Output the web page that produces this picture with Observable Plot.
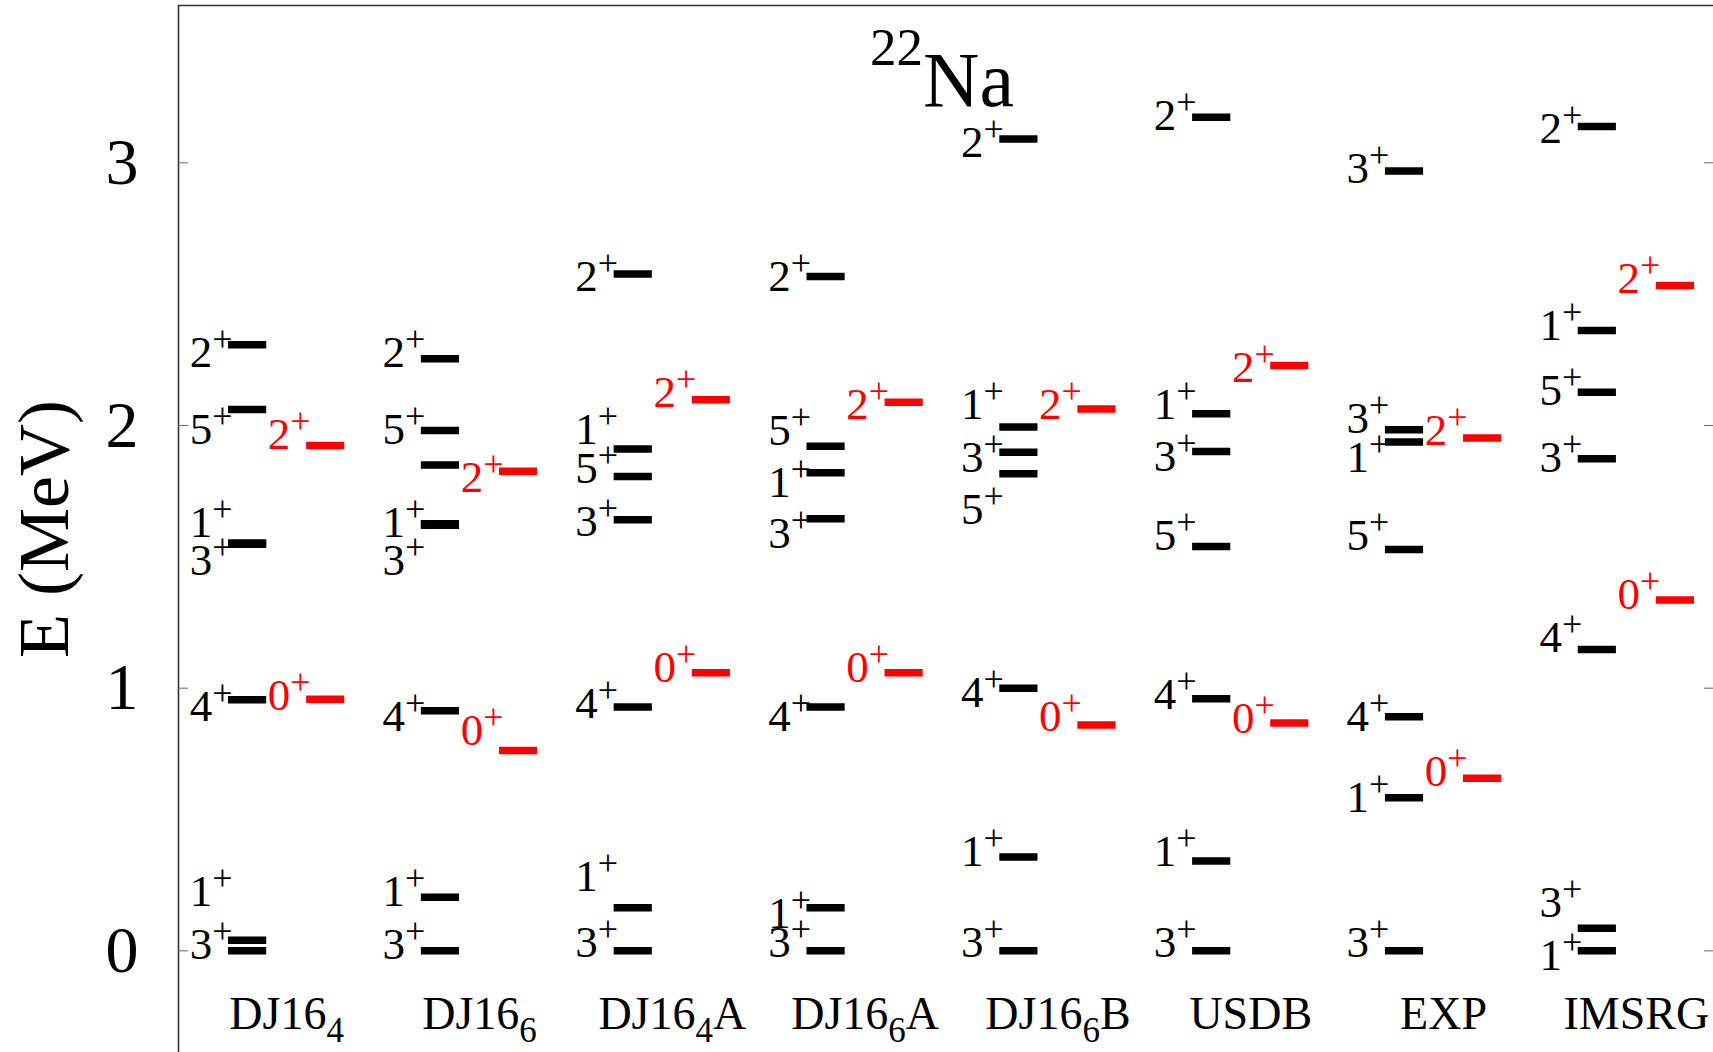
<!DOCTYPE html>
<html>
<head>
<meta charset="utf-8">
<script src="https://cdn.jsdelivr.net/npm/d3@7"></script>
<script src="https://cdn.jsdelivr.net/npm/@observablehq/plot@0.6"></script>
<style>
  html, body { margin: 0; padding: 0; background: #fff; }
  #chart { width: 1713px; height: 1052px; overflow: hidden; }
</style>
</head>
<body>
<div id="chart"></div>
<script>
// 22Na positive-parity spectra: shell-model interactions vs experiment and IMSRG.
// "_{}" marks a subscript and "^{}" a superscript in the drawn strings.
const models = ["DJ16_{4}", "DJ16_{6}", "DJ16_{4}A", "DJ16_{6}A", "DJ16_{6}B", "USDB", "EXP", "IMSRG"];
const energyTicks = [0, 1, 2, 3];

// Main levels (black), one list per model: spin J, excitation energy (MeV),
// and the energy at which the J^pi label sits (labels are nudged apart).
const mainJ = [
  [3, 1, 4, 3, 1, 5, 2],
  [3, 1, 4, 3, 1, null, 5, 2],
  [3, 1, 4, 3, 5, 1, 2],
  [3, 1, 4, 3, 1, 5, 2],
  [3, 1, 4, 5, 3, 1, 2],
  [3, 1, 4, 5, 3, 1, 2],
  [3, 1, 4, 5, 1, 3, 3],
  [1, 3, 4, 3, 5, 1, 2]
];
const mainE = [
  [0.000, 0.040, 0.956, 1.548, 1.553, 2.061, 2.307],
  [0.000, 0.204, 0.914, 1.620, 1.626, 1.850, 1.981, 2.254],
  [0.000, 0.164, 0.928, 1.641, 1.806, 1.911, 2.577],
  [0.000, 0.164, 0.928, 1.645, 1.820, 1.921, 2.567],
  [0.000, 0.357, 1.000, 1.816, 1.898, 1.994, 3.091],
  [0.000, 0.342, 0.960, 1.539, 1.901, 2.045, 3.174],
  [0.000, 0.583, 0.891, 1.528, 1.937, 1.984, 2.969],
  [0.000, 0.086, 1.147, 1.873, 2.127, 2.362, 3.138]
];
const mainLabelE = [
  [0.024, 0.226, 0.930, 1.486, 1.629, 1.983, 2.278],
  [0.024, 0.226, 0.892, 1.486, 1.629, null, 1.983, 2.278],
  [0.032, 0.283, 0.942, 1.635, 1.836, 1.985, 2.568],
  [0.032, 0.142, 0.890, 1.589, 1.784, 1.981, 2.568],
  [0.032, 0.379, 0.985, 1.680, 1.879, 2.080, 3.078],
  [0.033, 0.379, 0.976, 1.581, 1.883, 2.080, 3.180],
  [0.033, 0.585, 0.890, 1.581, 1.879, 2.027, 2.978],
  [-0.018, 0.184, 1.191, 1.879, 2.133, 2.381, 3.131]
];

// T = 1 analog states (red): the 0+ and 2+ levels of each model.
const analogJ = [0, 2];
const analogE = [
  [0.958, 1.924],
  [0.763, 1.826],
  [1.059, 2.098],
  [1.059, 2.089],
  [0.860, 2.063],
  [0.867, 2.228],
  [0.657, 1.952],
  [1.336, 2.533]
];
const analogLabelE = [
  [0.970, 1.966],
  [0.837, 1.800],
  [1.080, 2.127],
  [1.080, 2.080],
  [0.890, 2.080],
  [0.885, 2.222],
  [0.684, 1.981],
  [1.357, 2.560]
];

// Flatten into one table for the marks.
const levels = [];
models.forEach((m, i) => {
  mainJ[i].forEach((J, k) => levels.push({model: i, side: -1, J, E: mainE[i][k], labelE: mainLabelE[i][k]}));
  analogJ.forEach((J, k) => levels.push({model: i, side: 1, J, E: analogE[i][k], labelE: analogLabelE[i][k]}));
});

// Bar layout in column units: black bars left of the column centre, red bars right.
const barOffset = 0.2025;
const barHalf = 0.099;
const barLeft = d => d.model + d.side * barOffset - barHalf;
const barRight = d => d.model + d.side * barOffset + barHalf;
const levelColor = d => d.side < 0 ? "#000" : "#f00";

const xDomain = [-0.561, 7.40];
const yDomain = [-0.387, 3.599];

const chart = Plot.plot({
  width: 1713,
  height: 1052,
  marginLeft: 178,
  marginRight: 0,
  marginTop: 5,
  marginBottom: 0,
  style: {fontFamily: "'Liberation Serif', 'Times New Roman', serif", background: "#fff", color: "#000"},
  x: {domain: xDomain},
  y: {domain: yDomain},
  marks: [
    // frame: left and top edges (the right and bottom lie outside the view)
    Plot.ruleX([xDomain[0]], {stroke: "#333", strokeWidth: 1.6}),
    Plot.ruleY([yDomain[1]], {stroke: "#333", strokeWidth: 1.6}),
    // energy axis with inward ticks on both sides
    Plot.axisY(energyTicks, {anchor: "left", tickSize: 10, insetLeft: 10, tickPadding: 40, fontSize: 66, stroke: "#666", tickFormat: d3.format("d")}),
    Plot.axisY(energyTicks, {anchor: "right", tickSize: 10, insetRight: 10, tickFormat: () => "", stroke: "#666"}),
    // model names along the bottom, inside the frame
    Plot.axisX(d3.range(models.length), {anchor: "bottom", tickSize: 0, tickPadding: 0, dy: -56, fontSize: 46, tickFormat: i => models[i]}),
    // energy levels
    Plot.ruleY(levels, {y: "E", x1: barLeft, x2: barRight, stroke: levelColor, strokeWidth: 7.5}),
    // J^pi labels
    Plot.text(levels.filter(d => d.J != null), {
      x: barLeft, y: "labelE", text: d => `${d.J}^{+}`,
      textAnchor: "end", lineAnchor: "middle", dx: 4, fontSize: 45, fill: levelColor
    }),
    // axis title and nucleus
    Plot.text(["E (MeV)"], {text: d => d, frameAnchor: "left", textAnchor: "middle", lineAnchor: "middle", rotate: -90, dx: -134, fontSize: 72}),
    Plot.text(["^{22}Na"], {text: d => d, frameAnchor: "top", textAnchor: "middle", dy: 76, dx: -4, fontSize: 78, lineAnchor: "middle"})
  ]
});

document.getElementById("chart").appendChild(chart);

// Turn "^{..}" / "_{..}" into raised or lowered tspans.
function richText(root) {
  const ns = "http://www.w3.org/2000/svg";
  for (const t of root.querySelectorAll("text")) {
    const s = t.textContent;
    if (!/[\^_]\{/.test(s)) continue;
    const size = parseFloat(getComputedStyle(t).fontSize);
    t.textContent = "";
    for (const m of s.matchAll(/([\^_])\{([^}]*)\}|[^\^_]+/g)) {
      const span = document.createElementNS(ns, "tspan");
      if (m[1] === "^") {
        const big = m[2] !== "+";
        span.textContent = m[2];
        span.setAttribute("font-size", (big ? 0.68 : 0.8) * size);
        span.style.baselineShift = `${(big ? 0.52 : 0.36) * size}px`;
      } else if (m[1] === "_") {
        span.textContent = m[2];
        span.setAttribute("font-size", 0.76 * size);
        span.style.baselineShift = `${-0.29 * size}px`;
      } else {
        span.textContent = m[0];
      }
      t.appendChild(span);
    }
  }
}
richText(chart);
</script>
</body>
</html>
